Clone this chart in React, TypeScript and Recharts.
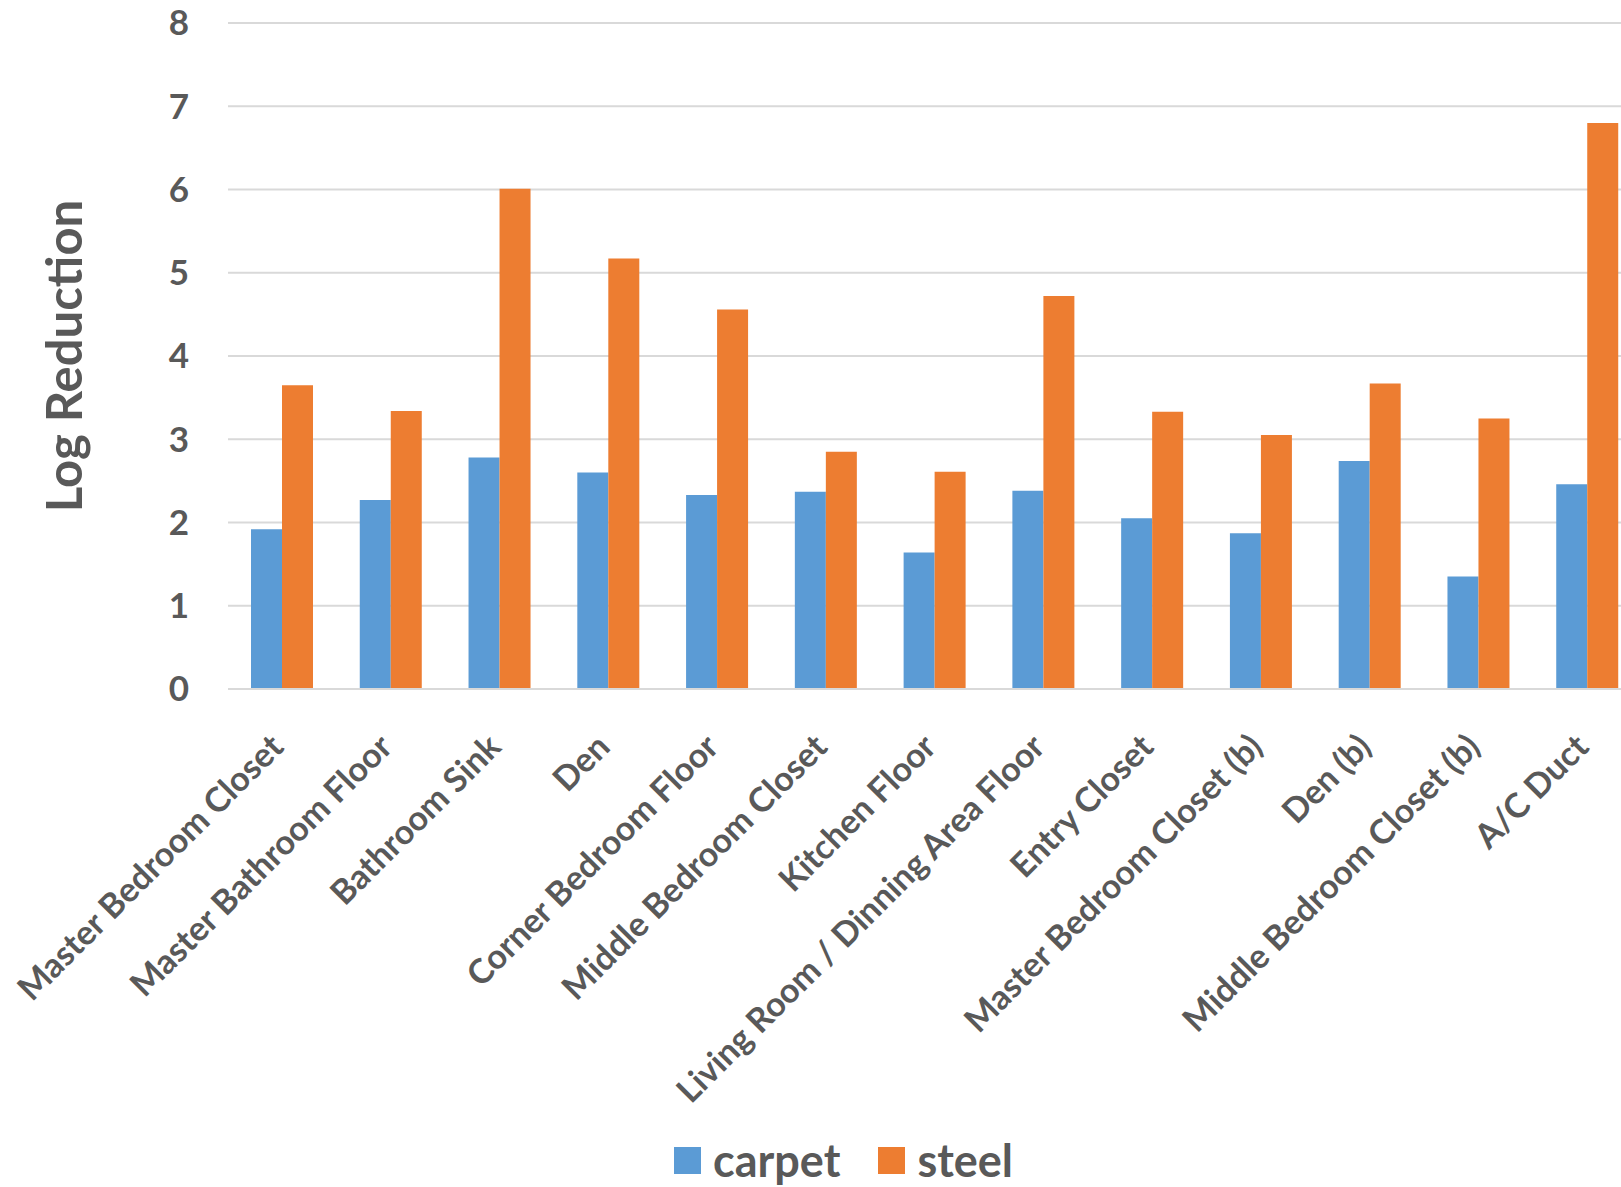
import React from "react";
import { BarChart, Bar, XAxis, YAxis, CartesianGrid, Legend, Label } from "recharts";

const categories = [
  "Master Bedroom Closet",
  "Master Bathroom Floor",
  "Bathroom Sink",
  "Den",
  "Corner Bedroom Floor",
  "Middle Bedroom Closet",
  "Kitchen Floor",
  "Living Room / Dinning Area Floor",
  "Entry Closet",
  "Master Bedroom Closet (b)",
  "Den (b)",
  "Middle Bedroom Closet (b)",
  "A/C Duct",
];
const carpetValues = [1.92, 2.27, 2.78, 2.6, 2.33, 2.37, 1.64, 2.38, 2.05, 1.87, 2.74, 1.35, 2.46];
const steelValues = [3.65, 3.34, 6.01, 5.17, 4.56, 2.85, 2.61, 4.72, 3.33, 3.05, 3.67, 3.25, 6.8];
const yTicks = [0, 1, 2, 3, 4, 5, 6, 7, 8];

const data = categories.map((name, i) => ({
  name,
  carpet: carpetValues[i],
  steel: steelValues[i],
}));

const FONT = "Lato, 'Open Sans', sans-serif";
const TEXT = "#595959";
const BLUE = "#5B9BD5";
const ORANGE = "#ED7D31";

function XTick(props: any) {
  const { x, y, payload } = props;
  const ax = x + 3;
  const ay = y + 60;
  return (
    <text
      x={ax}
      y={ay}
      textAnchor="end"
      transform={`rotate(-45, ${ax}, ${ay})`}
      fontFamily={FONT}
      fontWeight={700}
      fontSize={34}
      fill={TEXT}
    >
      {payload.value}
    </text>
  );
}

function AxisTitle(props: any) {
  const vb = props.viewBox || { x: 0, y: 0, height: 0 };
  const bx = vb.x + 82;
  const cy = vb.y + vb.height / 2;
  return (
    <text
      x={bx}
      y={cy}
      textAnchor="middle"
      transform={`rotate(-90, ${bx}, ${cy})`}
      fontFamily={FONT}
      fontWeight={700}
      fontSize={49}
      fill={TEXT}
    >
      Log Reduction
    </text>
  );
}

function LegendBox() {
  const items = [
    { label: "carpet", color: BLUE },
    { label: "steel", color: ORANGE },
  ];
  return (
    <div
      style={{
        height: 60,
        display: "flex",
        alignItems: "center",
        paddingLeft: 674,
        paddingTop: 6,
        boxSizing: "border-box",
      }}
    >
      {items.map((it) => (
        <div key={it.label} style={{ display: "flex", alignItems: "center", marginRight: 38 }}>
          <div style={{ width: 27, height: 27, background: it.color, marginRight: 12 }} />
          <span
            style={{
              fontFamily: FONT,
              fontWeight: 700,
              fontSize: 45,
              color: TEXT,
              lineHeight: "45px",
            }}
          >
            {it.label}
          </span>
        </div>
      ))}
    </div>
  );
}

export default function App() {
  return (
    <div
      style={{
        position: "absolute",
        left: 0,
        top: 0,
        width: 1621,
        height: 1187,
        overflow: "hidden",
        background: "#fff",
      }}
    >
      <BarChart
        width={1642}
        height={1187}
        data={data}
        margin={{ top: 23, right: 0, bottom: 0, left: 0 }}
        barGap={0}
        barSize={31}
      >
        <CartesianGrid vertical={false} stroke="#D9D9D9" strokeWidth={2} />
        <XAxis
          dataKey="name"
          interval={0}
          height={438}
          tickLine={false}
          tickSize={0}
          tickMargin={0}
          axisLine={{ stroke: "#D9D9D9", strokeWidth: 2 }}
          tick={<XTick />}
        />
        <YAxis
          width={228}
          domain={[0, 8]}
          ticks={yTicks}
          interval={0}
          axisLine={false}
          tickLine={false}
          tickSize={0}
          tickMargin={39}
          tick={{ fontFamily: FONT, fontWeight: 700, fontSize: 35, fill: TEXT }}
        >
          <Label content={<AxisTitle />} />
        </YAxis>
        <Legend
          verticalAlign="bottom"
          wrapperStyle={{ left: 0, width: 1621 }}
          content={<LegendBox />}
        />
        <Bar dataKey="carpet" fill={BLUE} isAnimationActive={false} />
        <Bar dataKey="steel" fill={ORANGE} isAnimationActive={false} />
      </BarChart>
    </div>
  );
}
